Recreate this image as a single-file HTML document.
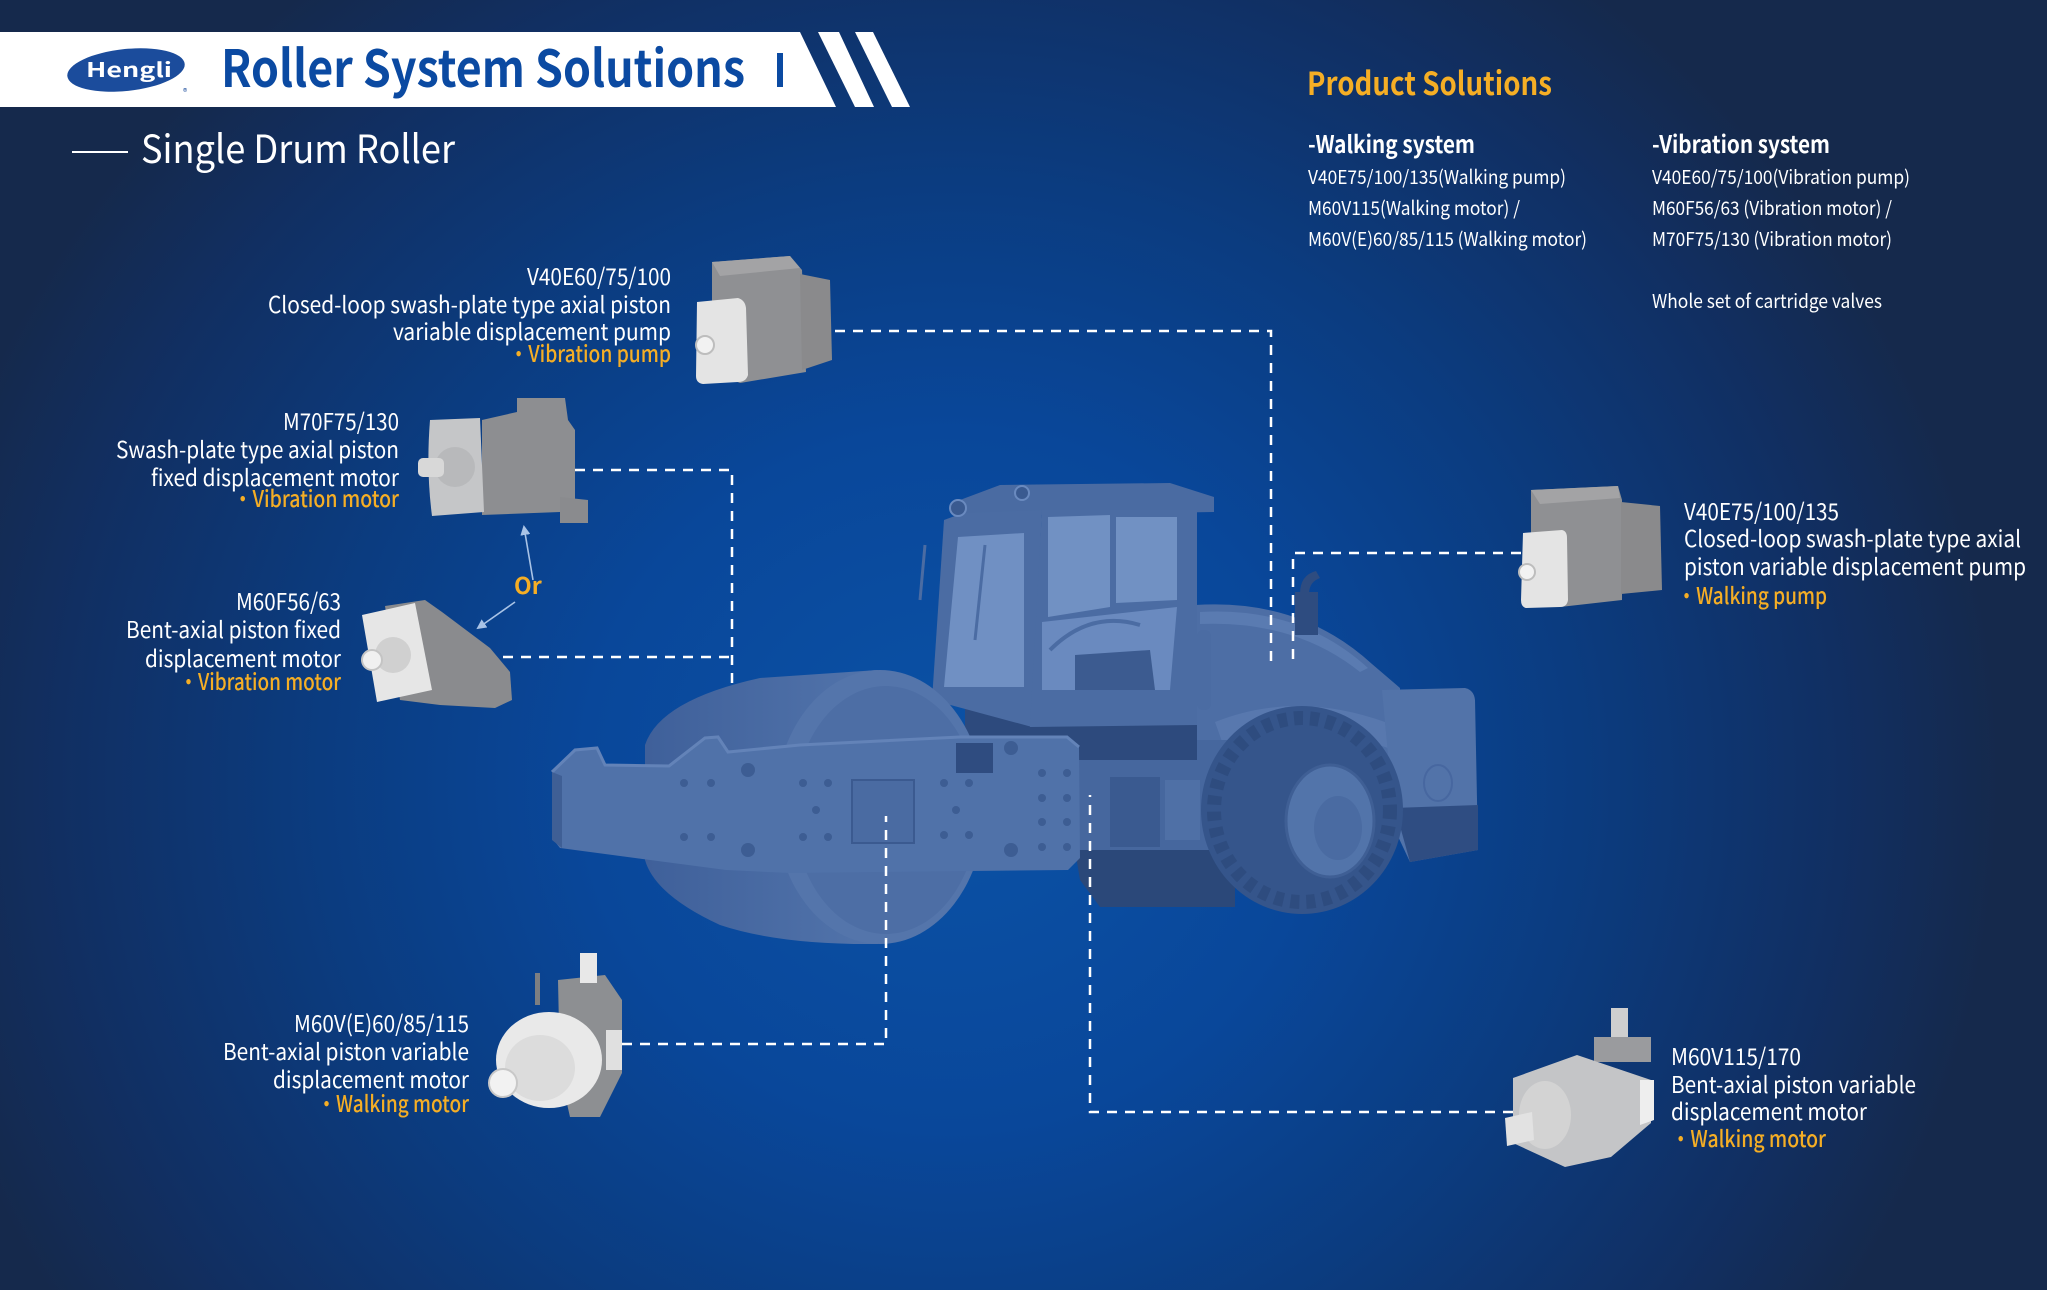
<!DOCTYPE html>
<html><head><meta charset="utf-8"><style>
html,body{margin:0;padding:0;background:#14294c;}
svg{display:block;}
text{font-family:"Noto Sans CJK SC","Liberation Sans",sans-serif;}
</style></head><body>
<svg width="2047" height="1290" viewBox="0 0 2047 1290" xmlns="http://www.w3.org/2000/svg">
<defs>
<radialGradient id="bg" gradientUnits="userSpaceOnUse" cx="950" cy="780" r="1000" gradientTransform="translate(950 780) scale(1.05 1.0) translate(-950 -780)">
<stop offset="0" stop-color="#0b52a6"/>
<stop offset="0.35" stop-color="#09479a"/>
<stop offset="0.6" stop-color="#0b3c80"/>
<stop offset="0.85" stop-color="#112f62"/>
<stop offset="1" stop-color="#15294c"/>
</radialGradient>
<linearGradient id="drumg" x1="0" y1="0" x2="1" y2="0">
<stop offset="0" stop-color="#3f609a"/><stop offset="1" stop-color="#5274ab"/>
</linearGradient>
<marker id="ah" markerWidth="10" markerHeight="10" refX="8" refY="5" orient="auto" markerUnits="userSpaceOnUse">
<path d="M0,0 L10,5 L0,10 Z" fill="#a9c3e6"/>
</marker>
</defs>
<rect width="2047" height="1290" fill="url(#bg)"/>

<!-- header band -->
<polygon points="0,32 800,32 836,107 0,107" fill="#ffffff"/>
<polygon points="818,32 839,32 874,107 855,107" fill="#ffffff"/>
<polygon points="855,32 873,32 910,107 892,107" fill="#ffffff"/>
<ellipse cx="126" cy="70" rx="59" ry="21" fill="#1b4c9c" transform="rotate(-6 126 70)"/>
<text x="86" y="77" font-size="20" font-weight="700" fill="#ffffff" textLength="86" lengthAdjust="spacingAndGlyphs">Hengli</text>
<text x="183" y="95" font-size="9" fill="#1b4c9c">®</text>
<text x="221" y="87" font-size="51" font-weight="700" fill="#0b4aa2" textLength="524" lengthAdjust="spacingAndGlyphs">Roller System Solutions</text>
<rect x="777" y="53" width="6" height="34" fill="#0b4aa2"/>

<line x1="72" y1="152" x2="128" y2="152" stroke="#ffffff" stroke-width="2"/>
<text x="141" y="163" font-size="39" fill="#ffffff" textLength="314" lengthAdjust="spacingAndGlyphs">Single Drum Roller</text>

<!-- Product solutions -->
<text x="1307" y="95" font-size="32" font-weight="700" fill="#f5ae25" textLength="245" lengthAdjust="spacingAndGlyphs">Product Solutions</text>
<g fill="#ffffff">
<text x="1308" y="153" font-size="24" font-weight="700" textLength="167" lengthAdjust="spacingAndGlyphs">-Walking system</text>
<text x="1652" y="153" font-size="24" font-weight="700" textLength="178" lengthAdjust="spacingAndGlyphs">-Vibration system</text>
<text x="1308" y="184" font-size="19" textLength="258" lengthAdjust="spacingAndGlyphs">V40E75/100/135(Walking pump)</text>
<text x="1308" y="215" font-size="19" textLength="212" lengthAdjust="spacingAndGlyphs">M60V115(Walking motor) /</text>
<text x="1308" y="246" font-size="19" textLength="279" lengthAdjust="spacingAndGlyphs">M60V(E)60/85/115 (Walking motor)</text>
<text x="1652" y="184" font-size="19" textLength="258" lengthAdjust="spacingAndGlyphs">V40E60/75/100(Vibration pump)</text>
<text x="1652" y="215" font-size="19" textLength="240" lengthAdjust="spacingAndGlyphs">M60F56/63 (Vibration motor) /</text>
<text x="1652" y="246" font-size="19" textLength="240" lengthAdjust="spacingAndGlyphs">M70F75/130 (Vibration motor)</text>
<text x="1652" y="308" font-size="19" textLength="230" lengthAdjust="spacingAndGlyphs">Whole set of cartridge valves</text>
</g>

<!-- ROLLER -->
<g>
<path d="M1195,605 Q1300,598 1372,664 L1400,688 L1400,765 L1230,765 L1195,745 Z" fill="#4d6ea5"/>
<path d="M1200,612 Q1300,606 1368,668 L1360,672 Q1295,620 1200,624 Z" fill="#5a7bb1"/>
<path d="M1215,722 Q1295,690 1385,722 L1388,748 Q1295,716 1225,750 Z" fill="#5878ae"/>
<path d="M1382,690 L1465,688 Q1474,690 1475,700 L1478,850 L1410,862 L1395,830 Z" fill="#5273a9"/>
<path d="M1395,808 L1478,805 L1478,850 L1410,862 Z" fill="#2f4d82"/>
<ellipse cx="1438" cy="783" rx="14" ry="18" fill="none" stroke="#4767a0" stroke-width="2"/>
<path d="M1295,635 L1295,592 L1318,592 L1318,635 Z" fill="#2e4c80"/>
<path d="M1300,594 Q1300,575 1316,571 L1320,578 Q1309,582 1309,594 Z" fill="#2e4c80"/>
<rect x="1075" y="740" width="160" height="120" fill="#46679e"/>
<rect x="1110" y="777" width="50" height="70" fill="#3a5a90"/>
<rect x="1165" y="780" width="35" height="60" fill="#4f70a6"/>
<path d="M1075,850 L1235,850 L1235,907 L1100,907 L1080,880 Z" fill="#2b4879"/>
<ellipse cx="1302" cy="810" rx="101" ry="104" fill="#35558b"/>
<ellipse cx="1302" cy="810" rx="88" ry="92" fill="none" stroke="#2e4c7f" stroke-width="14" stroke-dasharray="9 7"/>
<ellipse cx="1330" cy="821" rx="44" ry="56" fill="#5274aa" stroke="#3f5f95" stroke-width="3"/>
<ellipse cx="1338" cy="828" rx="24" ry="32" fill="#4a6ba2"/>
<rect x="965" y="698" width="232" height="62" fill="#2d4a7d"/>
<polygon points="960,500 1000,485 1170,483 1214,497 1214,512 960,516" fill="#4a6ba2"/>
<polygon points="963,513 1042,510 1032,727 932,700 944,520" fill="#4b6ca3"/>
<polygon points="1042,510 1197,510 1197,725 1030,727" fill="#4b6ca3"/>
<polygon points="958,537 1024,533 1024,687 944,687" fill="#7090c3"/>
<polygon points="1048,517 1110,515 1110,607 1048,617" fill="#7191c3"/>
<polygon points="1116,517 1177,517 1177,600 1116,603" fill="#7191c3"/>
<polygon points="1042,622 1177,607 1170,690 1042,690" fill="#6a8abf"/>
<polygon points="1075,655 1150,650 1155,690 1075,690" fill="#3c5b90"/>
<path d="M1050,650 Q1090,610 1140,625" stroke="#4b6ca3" stroke-width="4" fill="none"/>
<line x1="985" y1="545" x2="975" y2="640" stroke="#4b6ca3" stroke-width="3"/>
<circle cx="958" cy="508" r="8" fill="#3a5a90" stroke="#6a8abf" stroke-width="2"/>
<circle cx="1022" cy="493" r="7" fill="#3a5a90" stroke="#6a8abf" stroke-width="2"/>
<line x1="925" y1="545" x2="920" y2="600" stroke="#4b6ca3" stroke-width="3"/>
<rect x="1197" y="630" width="14" height="80" rx="6" fill="#4b6ca3"/>
<path d="M645,745 Q660,700 760,678 L878,670 L878,944 Q780,945 720,925 Q655,895 645,860 Z" fill="url(#drumg)"/>
<ellipse cx="880" cy="807" rx="105" ry="137" fill="#5475ab"/>
<ellipse cx="886" cy="810" rx="92" ry="124" fill="#4d6ea5"/>
<polygon points="552,772 575,750 597,748 605,765 669,766 705,738 718,737 728,752 800,745 960,737 1067,737 1079,747 1080,858 1068,870 790,873 726,870 560,848 552,838" fill="#5072a9"/>
<polyline points="552,772 575,750 597,748 605,765 669,766 705,738 718,737 728,752 800,745 960,737 1067,737 1079,747" fill="none" stroke="#6383b8" stroke-width="3"/>
<polygon points="552,772 562,776 562,848 552,840" fill="#3f5f95"/>
<rect x="852" y="780" width="62" height="63" fill="#4a6ba2" stroke="#3b5a90" stroke-width="2"/>
<rect x="956" y="743" width="37" height="30" fill="#2f4c80"/>
<g fill="#3d5d93">
<circle cx="748" cy="770" r="7"/><circle cx="748" cy="850" r="7"/><circle cx="1011" cy="748" r="7"/><circle cx="1011" cy="850" r="7"/>
<circle cx="684" cy="783" r="4"/><circle cx="711" cy="783" r="4"/><circle cx="684" cy="837" r="4"/><circle cx="711" cy="837" r="4"/>
<circle cx="803" cy="783" r="4"/><circle cx="828" cy="783" r="4"/><circle cx="803" cy="837" r="4"/><circle cx="828" cy="837" r="4"/>
<circle cx="944" cy="783" r="4"/><circle cx="969" cy="783" r="4"/><circle cx="944" cy="835" r="4"/><circle cx="969" cy="835" r="4"/>
<circle cx="1042" cy="773" r="4"/><circle cx="1067" cy="773" r="4"/><circle cx="1042" cy="798" r="4"/><circle cx="1067" cy="798" r="4"/>
<circle cx="1042" cy="822" r="4"/><circle cx="1067" cy="822" r="4"/><circle cx="1042" cy="847" r="4"/><circle cx="1067" cy="847" r="4"/>
<circle cx="816" cy="810" r="4"/><circle cx="956" cy="810" r="4"/>
</g>
</g>

<!-- dashed connectors -->
<g stroke="#ffffff" stroke-width="2.5" fill="none" stroke-dasharray="10 8">
<polyline points="835,331 1271,331 1271,663"/>
<polyline points="575,470 732,470 732,690"/>
<line x1="503" y1="657" x2="732" y2="657"/>
<polyline points="1521,553 1293,553 1293,660"/>
<polyline points="622,1044 886,1044 886,816"/>
<polyline points="1513,1112 1090,1112 1090,795"/>
</g>

<!-- Or arrows -->
<line x1="533" y1="580" x2="524" y2="527" stroke="#a9c3e6" stroke-width="1.6" marker-end="url(#ah)"/>
<line x1="515" y1="602" x2="478" y2="628" stroke="#a9c3e6" stroke-width="1.6" marker-end="url(#ah)"/>
<text x="514" y="594" font-size="23" font-weight="700" fill="#f5ae25">Or</text>

<!-- Pump 1 -->
<g>
<polygon points="712,262 790,256 802,270 806,372 740,383 712,372" fill="#8f9093"/>
<polygon points="712,262 790,256 800,268 720,276" fill="#a3a3a5"/>
<polygon points="800,274 830,280 832,360 802,370" fill="#8a8a8c"/>
<path d="M697,302 L738,298 Q745,300 746,308 L748,375 Q746,382 738,382 L703,384 Q696,383 696,376 Z" fill="#e4e4e4"/>
<circle cx="705" cy="345" r="9" fill="#f2f2f2" stroke="#bdbdbd" stroke-width="2"/>
</g>

<!-- Motor 2 -->
<g>
<polygon points="482,420 517,412 517,398 565,398 568,420 575,430 575,505 560,512 482,515" fill="#8d8e91"/>
<polygon points="560,497 588,500 588,523 560,523" fill="#8a8b8e"/>
<path d="M430,420 L480,418 L484,512 L432,516 Q426,470 430,420 Z" fill="#c5c6c8"/>
<circle cx="455" cy="467" r="20" fill="#b8b9bb"/>
<rect x="418" y="458" width="26" height="19" rx="5" fill="#d8d8d8"/>
</g>

<!-- Motor 3 -->
<g>
<polygon points="385,606 425,600 442,612 490,648 510,672 512,700 495,708 440,705 400,700" fill="#8a8b8e"/>
<polygon points="362,615 415,603 432,690 377,702" fill="#e6e6e6"/>
<circle cx="393" cy="655" r="18" fill="#d0d0d0"/>
<circle cx="372" cy="660" r="10" fill="#f0f0f0" stroke="#c4c4c4" stroke-width="2"/>
</g>

<!-- Motor 4 -->
<g>
<polygon points="558,980 605,975 622,1000 622,1073 600,1117 570,1117 560,1073" fill="#8d8f92"/>
<rect x="606" y="1030" width="16" height="40" fill="#e0e0e0"/>
<rect x="580" y="953" width="17" height="30" fill="#e8e8e8"/>
<rect x="535" y="973" width="5" height="32" fill="#7d7e81"/>
<ellipse cx="549" cy="1060" rx="53" ry="48" fill="#e9e9e9"/>
<ellipse cx="540" cy="1068" rx="35" ry="33" fill="#dcdcdc"/>
<circle cx="503" cy="1083" r="14" fill="#f2f2f2" stroke="#c8c8c8" stroke-width="2"/>
</g>

<!-- Pump 6 -->
<g>
<polygon points="1531,490 1618,486 1622,500 1622,600 1560,607 1531,600" fill="#8f9093"/>
<polygon points="1531,490 1618,486 1620,498 1540,504" fill="#a3a3a5"/>
<polygon points="1621,502 1660,506 1662,590 1621,594" fill="#8a8a8c"/>
<path d="M1523,533 L1562,530 Q1567,531 1567,538 L1568,600 Q1567,607 1560,607 L1526,608 Q1521,607 1521,600 Z" fill="#e4e4e4"/>
<circle cx="1527" cy="572" r="8" fill="#f2f2f2" stroke="#bdbdbd" stroke-width="2"/>
</g>

<!-- Motor 5 -->
<g>
<rect x="1611" y="1008" width="17" height="32" fill="#cfcfcf"/>
<polygon points="1594,1037 1651,1037 1651,1062 1594,1062" fill="#9a9b9e"/>
<polygon points="1513,1078 1577,1055 1651,1080 1651,1123 1611,1157 1565,1167 1513,1143" fill="#c4c5c7"/>
<polygon points="1640,1080 1654,1080 1654,1120 1640,1125" fill="#eeeeee"/>
<ellipse cx="1545" cy="1115" rx="26" ry="34" fill="#d3d3d3"/>
<polygon points="1505,1118 1532,1112 1534,1140 1507,1146" fill="#e2e2e2"/>
</g>

<!-- Labels -->
<g font-size="23" fill="#ffffff">
<text x="527" y="285" textLength="144" lengthAdjust="spacingAndGlyphs">V40E60/75/100</text>
<text x="268" y="313" textLength="403" lengthAdjust="spacingAndGlyphs">Closed-loop swash-plate type axial piston</text>
<text x="393" y="340" textLength="278" lengthAdjust="spacingAndGlyphs">variable displacement pump</text>
<text x="509" y="362" textLength="162" lengthAdjust="spacingAndGlyphs" fill="#f5ae25" font-weight="500">·Vibration pump</text>

<text x="283" y="430" textLength="116" lengthAdjust="spacingAndGlyphs">M70F75/130</text>
<text x="116" y="458" textLength="283" lengthAdjust="spacingAndGlyphs">Swash-plate type axial piston</text>
<text x="151" y="486" textLength="248" lengthAdjust="spacingAndGlyphs">fixed displacement motor</text>
<text x="233" y="507" textLength="166" lengthAdjust="spacingAndGlyphs" fill="#f5ae25" font-weight="500">·Vibration motor</text>

<text x="236" y="610" textLength="105" lengthAdjust="spacingAndGlyphs">M60F56/63</text>
<text x="126" y="638" textLength="215" lengthAdjust="spacingAndGlyphs">Bent-axial piston fixed</text>
<text x="145" y="667" textLength="196" lengthAdjust="spacingAndGlyphs">displacement motor</text>
<text x="179" y="690" textLength="162" lengthAdjust="spacingAndGlyphs" fill="#f5ae25" font-weight="500">·Vibration motor</text>

<text x="294" y="1032" textLength="175" lengthAdjust="spacingAndGlyphs">M60V(E)60/85/115</text>
<text x="223" y="1060" textLength="246" lengthAdjust="spacingAndGlyphs">Bent-axial piston variable</text>
<text x="273" y="1088" textLength="196" lengthAdjust="spacingAndGlyphs">displacement motor</text>
<text x="317" y="1112" textLength="152" lengthAdjust="spacingAndGlyphs" fill="#f5ae25" font-weight="500">·Walking motor</text>

<text x="1684" y="520" textLength="155" lengthAdjust="spacingAndGlyphs">V40E75/100/135</text>
<text x="1684" y="547" textLength="337" lengthAdjust="spacingAndGlyphs">Closed-loop swash-plate type axial</text>
<text x="1684" y="575" textLength="342" lengthAdjust="spacingAndGlyphs">piston variable displacement pump</text>
<text x="1677" y="604" textLength="150" lengthAdjust="spacingAndGlyphs" fill="#f5ae25" font-weight="500">·Walking pump</text>

<text x="1671" y="1065" textLength="130" lengthAdjust="spacingAndGlyphs">M60V115/170</text>
<text x="1671" y="1093" textLength="245" lengthAdjust="spacingAndGlyphs">Bent-axial piston variable</text>
<text x="1671" y="1120" textLength="196" lengthAdjust="spacingAndGlyphs">displacement motor</text>
<text x="1671" y="1147" textLength="155" lengthAdjust="spacingAndGlyphs" fill="#f5ae25" font-weight="500">·Walking motor</text>
</g>
</svg>
</body></html>
